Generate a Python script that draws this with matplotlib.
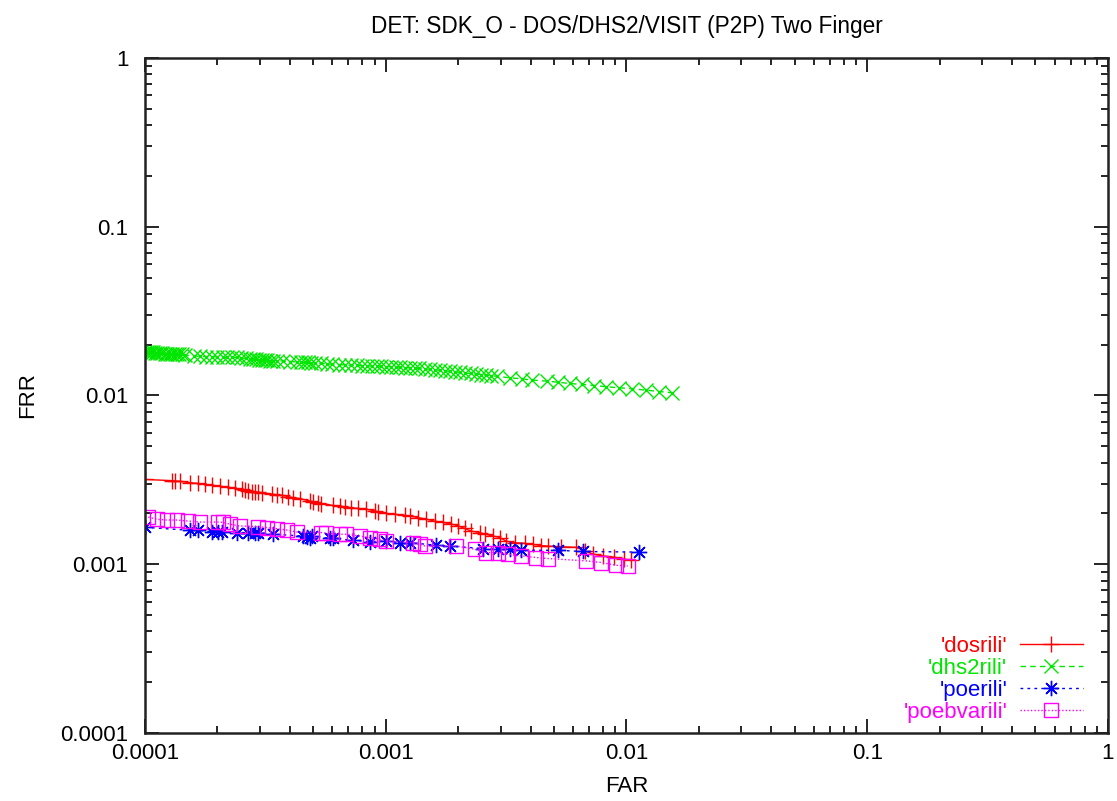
import matplotlib
matplotlib.use('agg')
import matplotlib.pyplot as plt
from matplotlib.ticker import FixedLocator, FixedFormatter, LogLocator, NullFormatter

plt.rcParams['font.family'] = ['Liberation Sans', 'DejaVu Sans']
plt.rcParams['font.size'] = 16

# --- data (FAR, FRR) ---
dos_far = [1.00e-4, 1.291e-4, 1.332e-4, 1.397e-4, 1.537e-4, 1.664e-4, 1.774e-4, 1.891e-4,
           2.048e-4, 2.216e-4, 2.362e-4, 2.519e-4, 2.599e-4, 2.683e-4, 2.771e-4, 2.860e-4,
           2.952e-4, 3.050e-4, 3.355e-4, 3.520e-4, 3.691e-4, 3.931e-4, 4.125e-4, 4.398e-4,
           4.837e-4, 4.993e-4, 5.237e-4, 5.410e-4, 6.044e-4, 6.443e-4, 6.759e-4, 7.205e-4,
           7.674e-4, 8.317e-4, 9.003e-4, 9.29e-4, 1.007e-3, 1.090e-3, 1.199e-3, 1.258e-3,
           1.361e-3, 1.475e-3, 1.597e-3, 1.729e-3, 1.874e-3, 1.995e-3, 2.127e-3, 2.268e-3,
           2.455e-3, 2.575e-3, 2.787e-3, 2.972e-3, 3.168e-3, 3.430e-3, 3.774e-3, 4.086e-3,
           4.427e-3, 4.715e-3, 5.358e-3, 6.183e-3, 6.695e-3, 7.249e-3, 7.975e-3, 8.917e-3,
           9.81e-3, 1.04e-2]
dos_frr = [3.18e-3, 3.13e-3, 3.11e-3, 3.10e-3, 3.04e-3, 3.01e-3, 2.97e-3, 2.94e-3,
           2.90e-3, 2.86e-3, 2.82e-3, 2.78e-3, 2.76e-3, 2.72e-3, 2.69e-3, 2.68e-3,
           2.67e-3, 2.65e-3, 2.61e-3, 2.58e-3, 2.56e-3, 2.52e-3, 2.48e-3, 2.45e-3,
           2.37e-3, 2.35e-3, 2.32e-3, 2.29e-3, 2.23e-3, 2.21e-3, 2.19e-3, 2.16e-3,
           2.14e-3, 2.12e-3, 2.07e-3, 2.05e-3, 2.00e-3, 1.98e-3, 1.95e-3, 1.93e-3,
           1.89e-3, 1.85e-3, 1.80e-3, 1.77e-3, 1.73e-3, 1.69e-3, 1.63e-3, 1.57e-3,
           1.54e-3, 1.51e-3, 1.47e-3, 1.44e-3, 1.37e-3, 1.34e-3, 1.33e-3, 1.31e-3,
           1.29e-3, 1.28e-3, 1.27e-3, 1.26e-3, 1.20e-3, 1.15e-3, 1.12e-3, 1.10e-3,
           1.07e-3, 1.06e-3]

dhs2_far = [1.00e-4, 1.02e-4, 1.04e-4, 1.06e-4, 1.08e-4, 1.10e-4, 1.12e-4, 1.15e-4, 1.18e-4,
            1.21e-4, 1.24e-4, 1.27e-4, 1.30e-4, 1.33e-4, 1.36e-4, 1.39e-4, 1.42e-4, 1.46e-4,
            1.60e-4, 1.70e-4, 1.80e-4, 1.90e-4, 2.00e-4, 2.10e-4, 2.20e-4, 2.30e-4, 2.40e-4,
            2.50e-4, 2.62e-4, 2.74e-4, 2.82e-4, 2.90e-4, 2.98e-4, 3.06e-4, 3.14e-4, 3.22e-4,
            3.30e-4, 3.40e-4, 3.52e-4, 3.75e-4, 4.00e-4, 4.30e-4, 4.45e-4, 4.60e-4, 4.75e-4,
            4.90e-4, 5.10e-4, 5.40e-4, 5.70e-4, 6.00e-4, 6.40e-4, 6.80e-4, 7.20e-4, 7.60e-4,
            8.00e-4, 8.40e-4, 8.80e-4, 9.20e-4, 9.60e-4, 1.00e-3, 1.05e-3, 1.10e-3, 1.15e-3,
            1.20e-3, 1.26e-3, 1.32e-3, 1.38e-3, 1.45e-3, 1.52e-3, 1.60e-3, 1.68e-3, 1.76e-3,
            1.85e-3, 1.94e-3, 2.04e-3, 2.14e-3, 2.25e-3, 2.36e-3, 2.48e-3, 2.60e-3, 2.75e-3,
            2.89e-3, 3.27e-3, 3.67e-3, 4.07e-3, 4.66e-3, 5.18e-3, 5.80e-3, 6.56e-3, 7.36e-3,
            8.26e-3, 9.35e-3, 1.059e-2, 1.21e-2, 1.37e-2, 1.553e-2]
dhs2_frr = [0.0182, 0.0181, 0.0181, 0.0180, 0.0180, 0.0179, 0.0179, 0.0178, 0.0178,
            0.0177, 0.0177, 0.0176, 0.0176, 0.0176, 0.0175, 0.0175, 0.0175, 0.0174,
            0.0171, 0.0171, 0.0170, 0.0170, 0.0169, 0.0169, 0.0168, 0.0168, 0.0168,
            0.0167, 0.0166, 0.0165, 0.0164, 0.0164, 0.0163, 0.0163, 0.0162, 0.0162,
            0.0161, 0.0161, 0.0161, 0.0160, 0.0159, 0.0158, 0.0157, 0.0157, 0.0157,
            0.0156, 0.0156, 0.0155, 0.0154, 0.0153, 0.0152, 0.0152, 0.0151, 0.0151,
            0.0150, 0.0150, 0.0149, 0.0149, 0.0149, 0.0148, 0.0148, 0.0147, 0.0147,
            0.0146, 0.0146, 0.0145, 0.0145, 0.0144, 0.0143, 0.0142, 0.0141, 0.0140,
            0.0139, 0.0138, 0.0137, 0.0136, 0.0135, 0.0134, 0.0133, 0.0132, 0.0131,
            0.01301, 0.01273, 0.01256, 0.01233, 0.01217, 0.01199, 0.01178, 0.01162, 0.01146,
            0.01126, 0.01111, 0.01096, 0.01075, 0.01056, 0.01037]

poe_far = [1.00e-4, 1.537e-4, 1.664e-4, 1.891e-4, 2.014e-4, 2.081e-4, 2.402e-4, 2.683e-4,
           2.860e-4, 2.952e-4, 3.407e-4, 4.538e-4, 4.688e-4, 4.837e-4, 4.917e-4, 5.857e-4,
           6.044e-4, 7.316e-4, 8.582e-4, 1.007e-3, 1.143e-3, 1.258e-3, 1.623e-3, 1.843e-3,
           2.533e-3, 2.924e-3, 3.269e-3, 3.657e-3, 5.188e-3, 6.586e-3, 1.132e-2]
poe_frr = [1.656e-3, 1.589e-3, 1.589e-3, 1.560e-3, 1.552e-3, 1.560e-3, 1.541e-3, 1.541e-3,
           1.541e-3, 1.541e-3, 1.506e-3, 1.469e-3, 1.445e-3, 1.440e-3, 1.465e-3, 1.425e-3,
           1.425e-3, 1.387e-3, 1.362e-3, 1.374e-3, 1.343e-3, 1.343e-3, 1.295e-3, 1.283e-3,
           1.239e-3, 1.227e-3, 1.227e-3, 1.210e-3, 1.210e-3, 1.190e-3, 1.180e-3]

poebva_far = [1.032e-4, 1.118e-4, 1.230e-4, 1.353e-4, 1.512e-4, 1.691e-4, 2.014e-4, 2.113e-4,
              2.253e-4, 2.479e-4, 2.952e-4, 3.199e-4, 3.520e-4, 3.873e-4, 4.262e-4, 5.410e-4,
              5.675e-4, 6.443e-4, 6.869e-4, 7.80e-4, 8.582e-4, 9.443e-4, 1.007e-3, 1.298e-3,
              1.384e-3, 1.452e-3, 1.965e-3, 2.341e-3, 2.617e-3, 2.924e-3, 3.217e-3, 3.657e-3,
              4.22e-3, 4.715e-3, 6.805e-3, 7.852e-3, 9.064e-3, 1.012e-2]
poebva_frr = [1.905e-3, 1.845e-3, 1.828e-3, 1.828e-3, 1.803e-3, 1.778e-3, 1.778e-3, 1.770e-3,
              1.726e-3, 1.686e-3, 1.670e-3, 1.648e-3, 1.626e-3, 1.596e-3, 1.552e-3, 1.541e-3,
              1.525e-3, 1.506e-3, 1.506e-3, 1.469e-3, 1.439e-3, 1.406e-3, 1.374e-3, 1.343e-3,
              1.313e-3, 1.283e-3, 1.283e-3, 1.227e-3, 1.173e-3, 1.173e-3, 1.146e-3, 1.120e-3,
              1.096e-3, 1.081e-3, 1.047e-3, 1.024e-3, 9.86e-4, 9.77e-4]

decades = [0.0001, 0.001, 0.01, 0.1, 1]
decade_labels = ['0.0001', '0.001', '0.01', '0.1', '1']

fig = plt.figure(figsize=(11.17, 8.01), dpi=100)
ax = fig.add_axes([0.1298, 0.0849, 0.8621, 0.8427])

ax.plot(dos_far, dos_frr, color='#ff0000', linestyle='-', linewidth=1.0,
        marker='+', markersize=12, markeredgewidth=1.0, label="'dosrili'")
ax.plot(dhs2_far, dhs2_frr, color='#00e600', linestyle=(0, (4, 3)), linewidth=1.0,
        marker='x', markersize=10, markeredgewidth=1.0, label="'dhs2rili'")
ax.plot(poe_far, poe_frr, color='#0000ff', linestyle=(0, (2, 3)), linewidth=1.0,
        marker=(8, 2, 0), markersize=11, markeredgewidth=1.0, label="'poerili'")
ax.plot(poebva_far, poebva_frr, color='#ff00ff', linestyle=(0, (1, 1.5)), linewidth=1.0,
        marker='s', markersize=10, markerfacecolor='none', markeredgewidth=1.0,
        label="'poebvarili'")

ax.set_xscale('log')
ax.set_yscale('log')
ax.set_xlim(1e-4, 1)
ax.set_ylim(1e-4, 1)

for axis in (ax.xaxis, ax.yaxis):
    axis.set_major_locator(FixedLocator(decades))
    axis.set_major_formatter(FixedFormatter(decade_labels))
    axis.set_minor_locator(LogLocator(base=10, subs=range(2, 10)))
    axis.set_minor_formatter(NullFormatter())

ax.tick_params(which='both', direction='in', top=True, right=True, width=1.2, colors='black')
ax.tick_params(which='major', length=10)
ax.tick_params(which='minor', length=5)
ax.tick_params(axis='x', which='major', pad=7)
ax.tick_params(axis='y', which='major', pad=12)
for sp in ax.spines.values():
    sp.set_linewidth(1.8)
    sp.set_color('#222222')

ax.set_title('DET: SDK_O - DOS/DHS2/VISIT (P2P) Two Finger', pad=18, fontsize=16.3)
ax.set_xlabel('FAR', labelpad=9)
ax.set_ylabel('FRR', labelpad=16)

ax.legend(loc='lower right', bbox_to_anchor=(0.9855, -0.002), frameon=False,
          markerfirst=False, numpoints=1, handlelength=2.85, handletextpad=0.55,
          labelspacing=0.05, borderpad=0, labelcolor='linecolor', fontsize=16)

fig.savefig('out.png', dpi=100)
